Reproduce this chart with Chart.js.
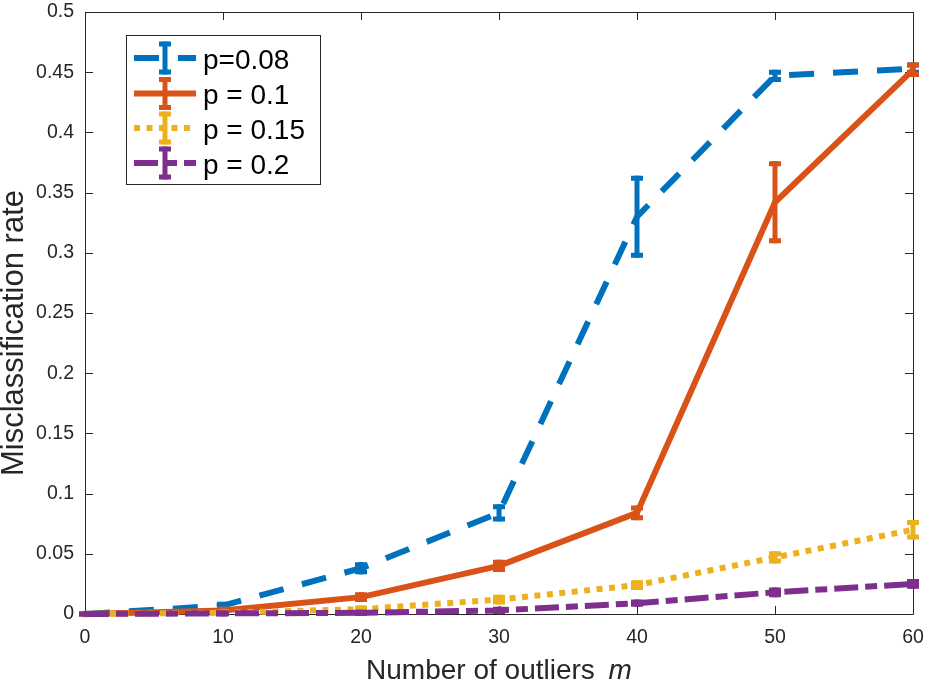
<!DOCTYPE html>
<html><head><meta charset="utf-8">
<script src="https://cdn.jsdelivr.net/npm/chart.js@4.4.0/dist/chart.umd.min.js"></script>
<style>html,body{margin:0;padding:0;background:#fff}</style>
</head><body>
<canvas id="c" width="928" height="686"></canvas>
<script>
const categories = [0, 10, 20, 30, 40, 50, 60];
const seriesLabels = ['p=0.08', 'p = 0.1', 'p = 0.15', 'p = 0.2'];
const p008 = [0, 0.007, 0.038, 0.084, 0.330, 0.447, 0.453];
const p008Err = [0.0005, 0.001, 0.003, 0.005, 0.032, 0.003, 0.003];
const p01 = [0, 0.003, 0.014, 0.040, 0.084, 0.342, 0.452];
const p01Err = [0.0005, 0.001, 0.002, 0.003, 0.004, 0.032, 0.004];
const p015 = [0, 0.001, 0.004, 0.012, 0.024, 0.047, 0.070];
const p015Err = [0, 0.0005, 0.001, 0.002, 0.002, 0.003, 0.006];
const p02 = [0, 0.0005, 0.001, 0.003, 0.009, 0.018, 0.025];
const p02Err = [0, 0.0003, 0.0005, 0.001, 0.001, 0.002, 0.002];
const xTickValues = [0, 10, 20, 30, 40, 50, 60];
const yTickValues = [0, 0.05, 0.1, 0.15, 0.2, 0.25, 0.3, 0.35, 0.4, 0.45, 0.5];
const yTickLabels = ['0', '0.05', '0.1', '0.15', '0.2', '0.25', '0.3', '0.35', '0.4', '0.45', '0.5'];
const xTitle = 'Number of outliers ';
const xTitleVar = 'm';
const yTitle = 'Misclassification rate';

const colors = ['#0072BD', '#D95319', '#EDB120', '#7E2F8E'];
const dashes = [[25, 19], [], [6, 6.5], [24, 7, 12, 7]];
const values = [p008, p01, p015, p02];
const errs = [p008Err, p01Err, p015Err, p02Err];
const LW = 6;
const FONT = '"Liberation Sans", Arial, Helvetica, sans-serif';
const AX = '#262626';

const datasets = values.map((v, i) => ({
  label: seriesLabels[i],
  data: categories.map((x, j) => ({x: x, y: v[j]})),
  err: errs[i],
  borderColor: colors[i],
  backgroundColor: colors[i],
  borderWidth: LW,
  borderDash: dashes[i],
  borderCapStyle: 'butt',
  borderJoinStyle: 'miter',
  pointRadius: 0,
  pointHoverRadius: 0,
  tension: 0,
  fill: false,
  clip: 10,
  order: 3 - i
}));

function drawErrBar(ctx, px, yLo, yHi, color) {
  ctx.save();
  ctx.strokeStyle = color;
  ctx.lineWidth = 5;
  ctx.setLineDash([]);
  ctx.lineCap = 'butt';
  ctx.beginPath();
  ctx.moveTo(px, yLo + 2.5); ctx.lineTo(px, yHi - 2.5);
  ctx.stroke();
  ctx.beginPath();
  ctx.moveTo(px - 6, yLo); ctx.lineTo(px + 6, yLo);
  ctx.moveTo(px - 6, yHi); ctx.lineTo(px + 6, yHi);
  ctx.stroke();
  ctx.restore();
}

const customPlugin = {
  id: 'custom',
  beforeDatasetsDraw(chart) {
    const ctx = chart.ctx, a = chart.chartArea;
    const xs = chart.scales.x, ys = chart.scales.y;
    ctx.save();
    ctx.strokeStyle = AX;
    ctx.lineWidth = 1;
    ctx.setLineDash([]);
    ctx.beginPath();
    ctx.rect(Math.round(a.left) + 0.5, Math.round(a.top) + 0.5, Math.round(a.right - a.left), Math.round(a.bottom - a.top));
    xTickValues.forEach(v => {
      const px = Math.round(xs.getPixelForValue(v)) + 0.5;
      ctx.moveTo(px, a.bottom); ctx.lineTo(px, a.bottom - 8);
      ctx.moveTo(px, a.top); ctx.lineTo(px, a.top + 8);
    });
    yTickValues.forEach(v => {
      const py = Math.round(ys.getPixelForValue(v)) + 0.5;
      ctx.moveTo(a.left, py); ctx.lineTo(a.left + 8, py);
      ctx.moveTo(a.right, py); ctx.lineTo(a.right - 8, py);
    });
    ctx.stroke();
    ctx.restore();
  },
  afterDatasetDraw(chart, args) {
    const ctx = chart.ctx;
    const ds = chart.data.datasets[args.index];
    const xs = chart.scales.x, ys = chart.scales.y;
    ds.data.forEach((d, j) => {
      const e = ds.err[j];
      const px = xs.getPixelForValue(d.x);
      drawErrBar(ctx, px, ys.getPixelForValue(d.y - e), ys.getPixelForValue(d.y + e), ds.borderColor);
    });
  },
  afterDraw(chart) {
    const ctx = chart.ctx, a = chart.chartArea;
    ctx.save();
    ctx.fillStyle = AX;
    ctx.textBaseline = 'middle';
    ctx.font = '28px ' + FONT;
    const w1 = ctx.measureText(xTitle).width;
    ctx.font = 'italic 28px ' + FONT;
    const w2 = ctx.measureText(xTitleVar).width;
    const cx = (a.left + a.right) / 2;
    let sx = cx - (w1 + w2 + 6) / 2;
    ctx.font = '28px ' + FONT;
    ctx.textAlign = 'left';
    ctx.fillText(xTitle, sx, 671);
    ctx.font = 'italic 28px ' + FONT;
    ctx.fillText(xTitleVar, sx + w1 + 6, 671);
    ctx.save();
    ctx.translate(14, 333);
    ctx.rotate(-Math.PI / 2);
    ctx.font = '31px ' + FONT;
    ctx.textAlign = 'center';
    ctx.fillText(yTitle, 0, 0);
    ctx.restore();
    const L = 126, T = 35, R = 320, B = 184;
    ctx.fillStyle = '#fff';
    ctx.fillRect(L, T, R - L, B - T);
    ctx.strokeStyle = AX;
    ctx.lineWidth = 1;
    ctx.strokeRect(L + 0.5, T + 0.5, R - L, B - T);
    const rowY = [58, 93.5, 128, 163];
    chart.data.datasets.forEach((ds, i) => {
      const y = rowY[i];
      ctx.save();
      ctx.strokeStyle = ds.borderColor;
      ctx.lineWidth = LW;
      ctx.lineCap = 'butt';
      ctx.setLineDash(ds.borderDash);
      ctx.beginPath();
      ctx.moveTo(134, y); ctx.lineTo(196, y);
      ctx.stroke();
      ctx.restore();
      drawErrBar(ctx, 165, y + 14, y - 14, ds.borderColor);
      ctx.fillStyle = '#000';
      ctx.font = '28px ' + FONT;
      ctx.textAlign = 'left';
      ctx.textBaseline = 'middle';
      ctx.fillText(ds.label, 203, y + 3);
    });
    ctx.restore();
  }
};

new Chart(document.getElementById('c'), {
  type: 'line',
  data: {datasets: datasets},
  options: {
    responsive: false,
    animation: false,
    devicePixelRatio: 1,
    layout: {padding: 0},
    plugins: {legend: {display: false}, tooltip: {enabled: false}},
    scales: {
      x: {
        type: 'linear', min: 0, max: 60,
        grid: {display: false, drawTicks: false},
        border: {display: false},
        afterBuildTicks: s => { s.ticks = xTickValues.map(v => ({value: v})); },
        afterFit: s => { s.height = 72; s.paddingLeft = 0; s.paddingRight = 15; },
        ticks: {padding: 12, color: AX, font: {family: FONT, size: 19.5}, maxRotation: 0,
          callback: v => String(v)}
      },
      y: {
        type: 'linear', min: 0, max: 0.5,
        grid: {display: false, drawTicks: false},
        border: {display: false},
        afterBuildTicks: s => { s.ticks = yTickValues.map(v => ({value: v})); },
        afterFit: s => { s.width = 85; s.paddingTop = 12; s.paddingBottom = 0; },
        ticks: {padding: 11, color: AX, font: {family: FONT, size: 19.5},
          callback: (v, i) => yTickLabels[i]}
      }
    }
  },
  plugins: [customPlugin]
});
</script>
</body></html>
